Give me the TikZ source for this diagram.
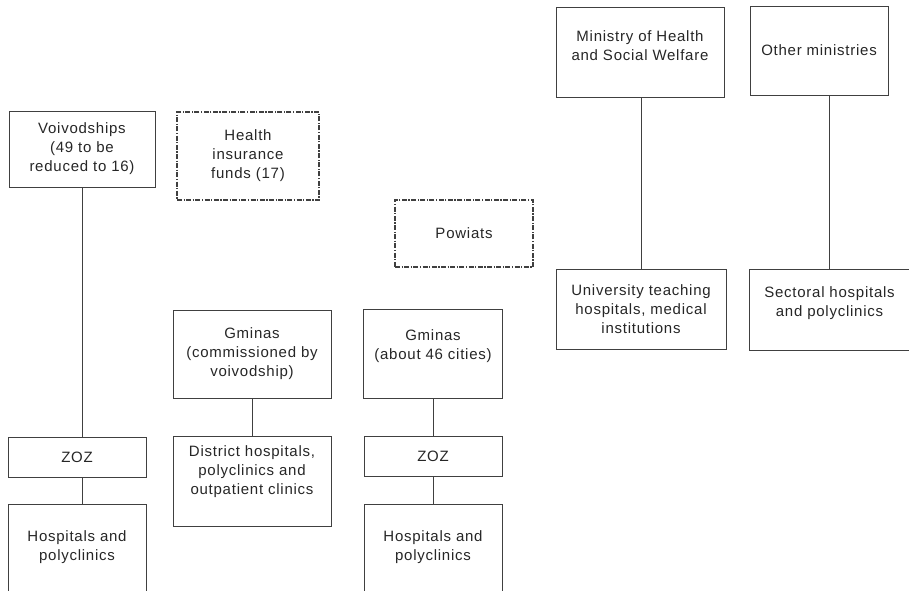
\documentclass[tikz,border=0pt]{standalone}
\usepackage{fontspec}
\setmainfont[LetterSpace=5]{Liberation Sans}
\usepackage{tikz}
\tikzstyle{boxtext}=[text=black!85,align=center,inner sep=0pt,
                     font=\fontsize{15}{19}\selectfont]
\tikzstyle{box}=[boxtext,rectangle,draw=black!75,line width=0.9pt]
\tikzstyle{dashbox}=[box,line width=1.2pt,
                     dash pattern=on 5pt off 1.5pt on 1.2pt off 1.5pt]
\tikzstyle{conn}=[draw=black!75,line width=0.9pt]

\begin{document}
\begin{tikzpicture}[x=1pt,y=-1pt]
    \clip (0,0) rectangle (909,590);
    % left column
    \node (voiv) at (82,149) [box,minimum width=146pt,minimum height=76pt]
      {Voivodships\\(49 to be\\reduced to 16)};
    \node (zoz1) at (77,457) [box,minimum width=138pt,minimum height=40pt]{ZOZ};
    \node (hosp1) at (77,550) [box,minimum width=138pt,minimum height=92pt]{};
    \node (hosp1t) at ([yshift=3pt]hosp1.center) [boxtext]{Hospitals and\\polyclinics};
    % dashed boxes
    \node (funds) at (248,156) [dashbox,minimum width=142pt,minimum height=88pt]
      {Health\\insurance\\funds (17)};
    \node (powiats) at (464,233.5) [dashbox,minimum width=138pt,minimum height=67pt]
      {Powiats};
    % gminas
    \node (gcomm) at (252,354) [box,minimum width=158pt,minimum height=88pt]
      {Gminas\\(commissioned by\\voivodship)};
    \node (district) at (252,481) [box,minimum width=158pt,minimum height=90pt]{};
    \node (districtt) at ([yshift=9pt]district.center) [boxtext]
      {District hospitals,\\polyclinics and\\outpatient clinics};
    \node (gcity) at (433,353.5) [box,minimum width=139pt,minimum height=89pt]{};
    \node (gcityt) at ([yshift=7pt]gcity.center) [boxtext]{Gminas\\(about 46 cities)};
    \node (zoz2) at (433,456) [box,minimum width=138pt,minimum height=40pt]{ZOZ};
    \node (hosp2) at (433,550) [box,minimum width=138pt,minimum height=92pt]{};
    \node (hosp2t) at ([yshift=3pt]hosp2.center) [boxtext]{Hospitals and\\polyclinics};
    % ministries
    \node (minist) at (640,52) [box,minimum width=168pt,minimum height=90pt]{};
    \node (ministt) at ([yshift=6pt]minist.center) [boxtext]
      {Ministry of Health\\and Social Welfare};
    \node (other) at (819,50.5) [box,minimum width=138pt,minimum height=89pt]
      {Other ministries};
    \node (univ) at (641,309) [box,minimum width=170pt,minimum height=80pt]
      {University teaching\\hospitals, medical\\institutions};
    \node (sect) at (836.5,309.5) [box,minimum width=175pt,minimum height=81pt]{};
    \node (sectt) at ([yshift=6pt,xshift=-7pt]sect.center) [boxtext]
      {Sectoral hospitals\\and polyclinics};

    \draw[conn] (voiv.south) -- (voiv.south |- zoz1.north);
    \draw[conn] (voiv.south |- zoz1.south) -- (voiv.south |- hosp1.north);
    \draw[conn] (gcomm.south) -- (district.north);
    \draw[conn] (gcity.south) -- (zoz2.north);
    \draw[conn] (zoz2.south) -- (hosp2.north);
    \draw[conn] (univ.north |- minist.south) -- (univ.north);
    \draw[conn] (sectt.north |- other.south) -- (sectt.north |- sect.north);
  \end{tikzpicture}
\end{document}
